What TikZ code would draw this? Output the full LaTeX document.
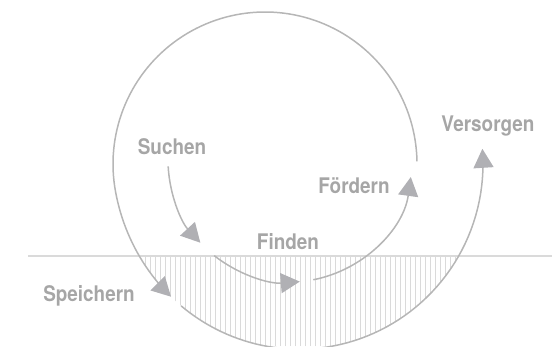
\documentclass[tikz,border=0pt]{standalone}
\usepackage{fontspec}
\setmainfont{TeX Gyre Heros}[FakeStretch=0.88]
\usepackage{xcolor}
\usetikzlibrary{arrows.meta}

\definecolor{linegray}{RGB}{182,182,182}
\definecolor{textgray}{RGB}{166,166,166}
\definecolor{tipgray}{RGB}{176,176,180}
\definecolor{hatchgray}{RGB}{218,218,218}

\begin{document}
\begin{tikzpicture}[
        x=1pt, y=1pt,
        label/.style={font=\bfseries\fontsize{21.5}{22}\selectfont, text=textgray, inner sep=0pt, anchor=base},
        arrow/.style={-{Triangle[length=19pt, width=20pt, color=tipgray]}, draw=linegray, line width=1.5pt},
        ground/.style={draw=hatchgray, line width=1.5pt},
        hatch/.style={draw=hatchgray, line width=0.8pt},
        declare function={rsp(\x)=152+33*(1-cos(1.0588*max(0,\x-190)));}
    ]
    \useasboundingbox (0,0) rectangle (552,346);

    % centres of the outer spiral and the inner circle
    \coordinate (sc) at (265,182);
    \coordinate (ic) at (290,186);

    % ground line and hatched part below it
    \coordinate (gl) at (28,90);
    \coordinate (gr) at (552,90);
    \begin{scope}
        \clip (0,0) rectangle (552,90);
        \clip[shift={(sc)}] plot[domain=180:362, samples=90] (\x:{rsp(\x)}) -- cycle;
        \foreach \hx in {130,135,...,470}
            \draw[hatch] (\hx,0) -- (\hx,90);
    \end{scope}
    \draw[ground] (gl) -- (gr);

    % outer spiral: Speichern, then Versorgen
    \draw[arrow, shift={(sc)}] plot[domain=1:234.7, samples=118] (\x:{rsp(\x)});
    \draw[arrow, shift={(sc)}] plot[domain=239.4:364, samples=64] (\x:{rsp(\x)});

    % inner circle: Suchen -> Finden -> Foerdern
    \path (ic) ++(183:122) coordinate (su0);
    \path (ic) ++(231.6:122) coordinate (fi0);
    \path (ic) ++(281:122) coordinate (fo0);
    \draw[arrow] (su0) arc[start angle=183, end angle=222.7, radius=122];
    \draw[arrow] (fi0) arc[start angle=231.6, end angle=274.6, radius=122];
    \draw[arrow] (fo0) arc[start angle=281, end angle=352, radius=122];

    % labels
    \node[label] (suchen) at (172,191) {Suchen};
    \node[label] (finden) at (288,97) {Finden};
    \node[label] (foerdern) at (354,153) {Fördern};
    \node[label] (versorgen) at (488,214) {Versorgen};
    \node[label] (speichern) at (89,45) {Speichern};

\end{tikzpicture}
\end{document}
